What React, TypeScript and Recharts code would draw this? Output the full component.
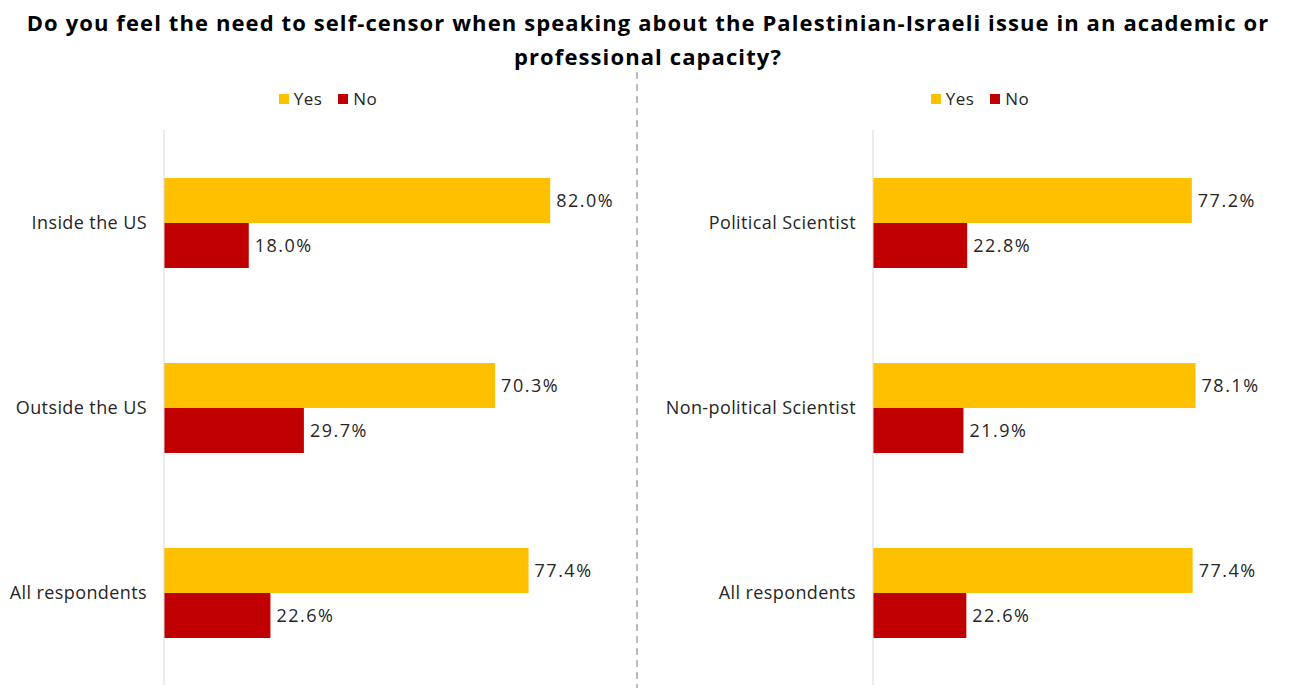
import React from "react";
import { BarChart, Bar, XAxis, YAxis, Legend, LabelList } from "recharts";

const leftCategories = ["Inside the US", "Outside the US", "All respondents"];
const leftYes = [82.0, 70.3, 77.4];
const leftNo = [18.0, 29.7, 22.6];

const rightCategories = ["Political Scientist", "Non-political Scientist", "All respondents"];
const rightYes = [77.2, 78.1, 77.4];
const rightNo = [22.8, 21.9, 22.6];

const seriesNames = ["Yes", "No"];
const seriesColors = ["#FFC000", "#C00000"];
const FONT = "'Open Sans', 'Noto Sans', sans-serif";

const build = (cats: string[], yes: number[], no: number[]) =>
  cats.map((c, i) => ({ category: c, yes: yes[i], no: no[i] }));

const fmt = (v: any) => `${Number(v).toFixed(1)}%`;

const LegendContent = () => (
  <div style={{ display: "flex", justifyContent: "center", alignItems: "center", gap: 16 }}>
    {seriesNames.map((n, i) => (
      <div key={n} style={{ display: "flex", alignItems: "center", gap: 5 }}>
        <span style={{ display: "inline-block", width: 10, height: 10, background: seriesColors[i] }} />
        <span style={{ color: "#262626", fontSize: 17, fontFamily: FONT, letterSpacing: 0.5 }}>{n}</span>
      </div>
    ))}
  </div>
);

const labelStyle = { fill: "#262626", fontSize: 18, fontFamily: FONT, letterSpacing: 1.5 };

function Panel({
  data,
  width,
  axisWidth,
  rightMargin,
  legendWidth,
}: {
  data: any[];
  width: number;
  axisWidth: number;
  rightMargin: number;
  legendWidth: number;
}) {
  return (
    <BarChart
      width={width}
      height={688}
      data={data}
      layout="vertical"
      margin={{ top: 130, right: rightMargin, bottom: 3, left: 0 }}
      barCategoryGap={48}
      barGap={0}
    >
      <XAxis type="number" domain={[0, 100]} hide />
      <YAxis
        type="category"
        dataKey="category"
        width={axisWidth}
        axisLine={{ stroke: "#d9d9d9", strokeWidth: 1 }}
        tickLine={false}
        tickSize={0}
        tickMargin={17}
        tick={{ fill: "#262626", fontSize: 18, fontFamily: FONT, letterSpacing: 0.4 }}
      />
      <Legend
        verticalAlign="middle"
        align="center"
        layout="horizontal"
        content={LegendContent}
        wrapperStyle={{ top: 87, left: 0, width: legendWidth }}
      />
      <Bar dataKey="yes" name={seriesNames[0]} fill={seriesColors[0]} isAnimationActive={false}>
        <LabelList dataKey="yes" position="right" offset={6} formatter={fmt} style={labelStyle} />
      </Bar>
      <Bar dataKey="no" name={seriesNames[1]} fill={seriesColors[1]} isAnimationActive={false}>
        <LabelList dataKey="no" position="right" offset={6} formatter={fmt} style={labelStyle} />
      </Bar>
    </BarChart>
  );
}

export default function App() {
  const leftData = build(leftCategories, leftYes, leftNo);
  const rightData = build(rightCategories, rightYes, rightNo);
  return (
    <div
      style={{
        position: "absolute",
        left: 0,
        top: 0,
        width: 1296,
        height: 688,
        background: "#fff",
        overflow: "hidden",
        fontFamily: FONT,
      }}
    >
      <div
        style={{
          position: "absolute",
          top: 5,
          left: 0,
          width: 1296,
          textAlign: "center",
          fontFamily: FONT,
          fontWeight: 700,
          fontSize: 22,
          lineHeight: "34px",
          color: "#000",
          letterSpacing: 1.1,
          whiteSpace: "nowrap",
        }}
      >
        Do you feel the need to self-censor when speaking about the Palestinian-Israeli issue in an academic or
        <br />
        professional capacity?
      </div>
      <svg style={{ position: "absolute", left: 0, top: 0 }} width={1296} height={688}>
        <line x1={637} y1={72} x2={637} y2={688} stroke="#a6a6a6" strokeWidth={1.5} strokeDasharray="7 5" />
      </svg>
      <div style={{ position: "absolute", left: 0, top: 0 }}>
        <Panel data={leftData} width={640} axisWidth={164} rightMargin={5} legendWidth={656} />
      </div>
      <div style={{ position: "absolute", left: 637, top: 0 }}>
        <Panel data={rightData} width={659} axisWidth={236} rightMargin={10} legendWidth={686} />
      </div>
    </div>
  );
}
